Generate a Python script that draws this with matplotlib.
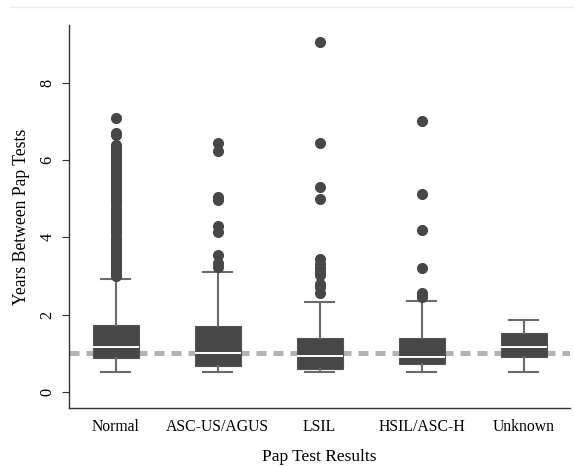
import matplotlib
matplotlib.use("Agg")
import matplotlib.pyplot as plt
from matplotlib.lines import Line2D

# Data
categories = ["Normal", "ASC-US/AGUS", "LSIL", "HSIL/ASC-H", "Unknown"]
q1 = [0.88, 0.67, 0.59, 0.72, 0.89]
median = [1.17, 1.00, 0.92, 0.91, 1.15]
q3 = [1.73, 1.69, 1.40, 1.40, 1.53]
whislo = [0.50, 0.50, 0.50, 0.50, 0.52]
whishi = [2.93, 3.11, 2.32, 2.34, 1.87]
outliers_normal = [7.09, 6.69, 6.64, 6.39, 6.33, 6.27, 6.20, 6.12, 6.05, 5.98,
                   5.90, 5.82, 5.75, 5.67, 5.60, 5.52, 5.44, 5.37, 5.30, 5.22,
                   5.14, 5.07, 5.00, 4.92, 4.85, 4.77, 4.70, 4.62, 4.55, 4.47,
                   4.40, 4.32, 4.25, 4.17, 4.10, 4.02, 3.95, 3.87, 3.80, 3.72,
                   3.65, 3.57, 3.50, 3.42, 3.35, 3.27, 3.20, 3.12, 3.05, 3.00]
outliers_asc = [6.43, 6.24, 5.04, 4.97, 4.30, 4.15, 3.54, 3.33, 3.24]
outliers_lsil = [9.07, 6.43, 5.30, 4.98, 3.43, 3.30, 3.20, 3.10, 3.02, 2.78, 2.70, 2.56]
outliers_hsil = [7.02, 5.11, 4.18, 3.20, 2.55, 2.50, 2.46]
outliers_unknown = []
reference_years = 1.0

fliers = [outliers_normal, outliers_asc, outliers_lsil, outliers_hsil, outliers_unknown]

plt.rcParams['font.family'] = ['Liberation Serif', 'DejaVu Serif']

fig = plt.figure(figsize=(5.74, 4.66), dpi=100)
ax = fig.add_axes([0.1207, 0.1238, 0.8723, 0.8226])

box_color = '#474747'
whisk_color = '#6b6b6b'

ax.axhline(reference_years, color='#b3b3b3', linewidth=3.6,
           linestyle=(0, (2.0, 1.4)), zorder=1)

stats = []
for i, name in enumerate(categories):
    stats.append({
        'label': name, 'q1': q1[i], 'med': median[i], 'q3': q3[i],
        'whislo': whislo[i], 'whishi': whishi[i], 'fliers': fliers[i],
    })

ax.bxp(stats, positions=range(len(categories)), widths=0.45,
       patch_artist=True, showfliers=True,
       boxprops=dict(facecolor=box_color, edgecolor='#555555', linewidth=0.8),
       medianprops=dict(color='white', linewidth=1.4),
       whiskerprops=dict(color=whisk_color, linewidth=1.5),
       capprops=dict(color=whisk_color, linewidth=1.5),
       flierprops=dict(marker='o', markerfacecolor=box_color,
                       markeredgecolor=box_color, markersize=7),
       capwidths=0.29, zorder=3)

ax.set_xlim(-0.455, 4.455)
ax.set_ylim(-0.43, 9.5)
ax.set_yticks([0, 2, 4, 6, 8])
ax.set_xticks(range(len(categories)))
ax.set_xticklabels(categories, fontsize=11.3)
ax.tick_params(axis='x', length=0, pad=8)
ax.tick_params(axis='y', length=5, width=0.8, color='#333333', pad=5, labelsize=11.7)
for lab in ax.get_yticklabels():
    lab.set_rotation(90)
    lab.set_va('center')

for side in ['top', 'right']:
    ax.spines[side].set_visible(False)
for side in ['left', 'bottom']:
    ax.spines[side].set_color('#333333')
    ax.spines[side].set_linewidth(1.0)

ax.set_ylabel("Years Between Pap Tests", fontsize=12.7, labelpad=7)
ax.set_xlabel("Pap Test Results", fontsize=12.5, labelpad=10)

# faint border line at top of figure
fig.add_artist(Line2D([0.018, 1.0], [0.984, 0.984], color='#eeeeee', linewidth=1.0))

fig.savefig("out.png", dpi=100)
